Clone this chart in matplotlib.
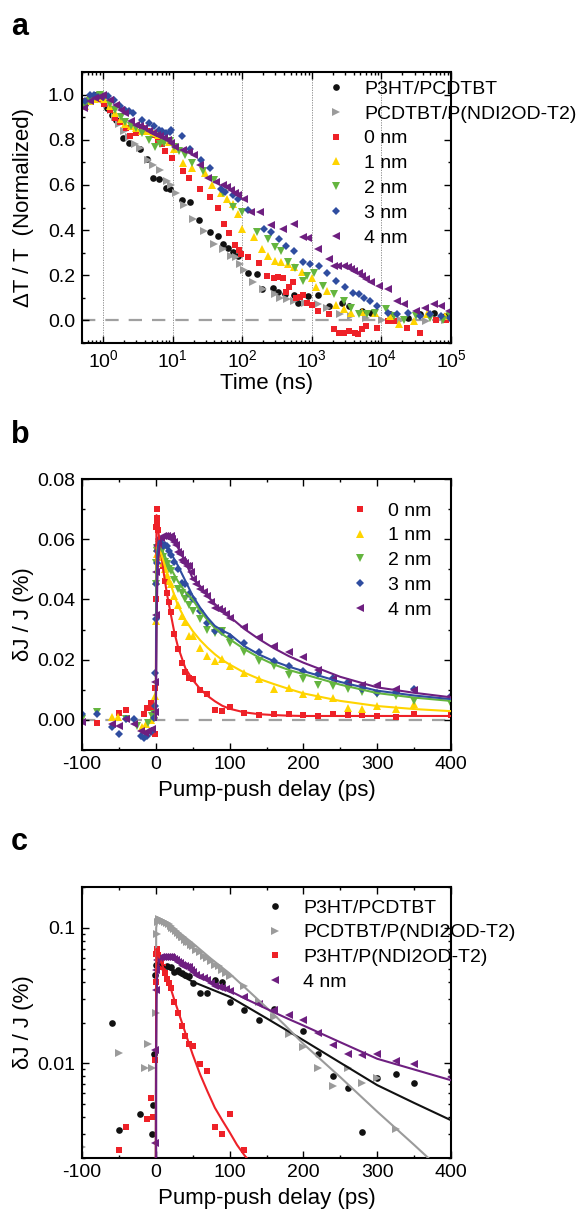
import matplotlib
matplotlib.use("Agg")
import matplotlib.pyplot as plt
from matplotlib.ticker import MultipleLocator, FixedLocator, LogLocator, NullFormatter

plt.rcParams["font.family"] = ["Liberation Sans", "DejaVu Sans"]
plt.rcParams["axes.unicode_minus"] = False

# ---------------- panel a: normalized dT/T vs time (ns) ----------------
a_black_t = [0.55, 0.62, 0.7, 0.78, 0.88, 1.0, 1.15, 1.35, 1.53, 1.96, 2.36, 3.4, 4.3, 5.2, 6.3, 8.0,
             9.1, 13.6, 17.8, 24.1, 34.9, 44.6, 53.5, 62, 72.8, 87.4, 123, 165, 194, 275, 332, 413,
             548, 643, 897, 1217, 1758, 2700, 3440, 5250, 7180, 13200, 24500, 35300, 57600, 83000]
a_black_v = [0.96, 0.98, 0.99, 1.0, 0.99, 0.97, 0.94, 0.91, 0.888, 0.809, 0.786, 0.757, 0.713, 0.629, 0.626,
             0.588, 0.58, 0.533, 0.524, 0.444, 0.393, 0.374, 0.34, 0.319, 0.302, 0.287, 0.21, 0.206, 0.141,
             0.143, 0.126, 0.118, 0.111, 0.079, 0.108, 0.111, 0.064, 0.076, 0.064, 0.042, 0.034, 0.027,
             0.012, 0.027, 0.034, 0.019]

a_gray_t = [0.55, 0.65, 0.75, 0.85, 1.0, 1.15, 1.3, 1.5, 1.7, 2.0, 2.4, 2.9, 3.4, 4.5, 5.2, 6.7, 8.3,
            9.5, 11.1, 14.8, 19.6, 28.4, 39.5, 53.5, 68.6, 82, 93, 105, 145, 198, 292, 352, 438, 548,
            795, 1217, 1660, 2540, 3680, 5950, 10300, 19000, 44000, 83000]
a_gray_v = [0.96, 0.97, 0.98, 0.99, 0.98, 0.96, 0.93, 0.9, 0.87, 0.84, 0.81, 0.78, 0.765, 0.71, 0.688,
            0.666, 0.617, 0.6, 0.562, 0.51, 0.45, 0.398, 0.339, 0.317, 0.287, 0.279, 0.25, 0.225, 0.17,
            0.138, 0.118, 0.099, 0.096, 0.086, 0.079, 0.071, 0.056, 0.027, 0.019, 0.012, 0.004, 0.004,
            -0.003, 0.004]

a_red_t = [0.55, 0.65, 0.78, 0.9, 1.05, 1.25, 1.5, 1.73, 2.16, 2.47, 3.0, 3.6, 4.3, 5.2, 6.2, 7.0, 7.85,
           9.8, 14.1, 17.5, 24.4, 34, 44.3, 55.2, 65, 77.6, 88.6, 96.8, 123, 172, 226, 282, 331, 380,
           420, 470, 540, 600, 680, 740, 846, 1000, 1247, 1740, 2110, 2440, 2870, 3440, 4140, 4680,
           5250, 5980, 8630, 12500, 15000, 23000, 35300, 61300, 85000]
a_red_v = [0.97, 0.98, 0.99, 0.98, 0.96, 0.93, 0.898, 0.88, 0.851, 0.818, 0.83, 0.85, 0.84, 0.82, 0.8,
           0.78, 0.75, 0.72, 0.661, 0.629, 0.584, 0.547, 0.496, 0.428, 0.386, 0.333, 0.311, 0.296,
           0.281, 0.256, 0.197, 0.19, 0.192, 0.19, 0.125, 0.146, 0.17, 0.1, 0.104, 0.111, 0.078, 0.07,
           0.04, 0.03, -0.04, -0.055, -0.055, -0.045, -0.055, -0.062, -0.04, -0.025, -0.033, -0.003,
           -0.003, -0.033, -0.055, 0.004, 0.0]

a_yellow_t = [0.55, 0.65, 0.78, 0.9, 1.05, 1.25, 1.5, 1.8, 2.1, 2.5, 3.0, 3.6, 4.3, 5.2, 6.2, 7.4, 8.8,
              10.5, 13.9, 18.9, 29, 37, 50.4, 60.5, 72.8, 87.4, 98.8, 146, 190, 233, 297, 357, 457,
              548, 718, 1011, 1145, 1650, 2240, 2870, 3640, 5250, 8130, 13200, 18000, 29400, 45000,
              83000]
a_yellow_v = [0.95, 0.97, 0.98, 0.99, 0.98, 0.95, 0.92, 0.89, 0.87, 0.86, 0.85, 0.84, 0.84, 0.83, 0.82,
              0.8, 0.79, 0.76, 0.695, 0.673, 0.651, 0.599, 0.562, 0.539, 0.517, 0.473, 0.406, 0.37,
              0.318, 0.287, 0.265, 0.257, 0.25, 0.238, 0.215, 0.19, 0.146, 0.131, 0.067, 0.049, 0.034,
              0.037, 0.034, 0.019, -0.018, -0.003, 0.027, 0.019]

a_green_t = [0.55, 0.65, 0.78, 0.9, 1.05, 1.25, 1.5, 1.8, 2.1, 2.5, 3.0, 3.6, 4.6, 5.6, 6.5, 7.5, 9.2,
             10.5, 12.5, 15.3, 18.9, 27, 39.5, 53.5, 72.8, 98.8, 161, 233, 297, 357, 457, 583, 747,
             840, 1080, 1450, 2100, 2870, 3640, 4690, 6300, 8130, 11700, 15000, 21400, 31000, 50000,
             77000, 98000]
a_green_v = [0.95, 0.97, 0.99, 1.0, 0.99, 0.96, 0.93, 0.9, 0.88, 0.86, 0.85, 0.83, 0.8, 0.767, 0.78,
             0.785, 0.796, 0.77, 0.75, 0.733, 0.698, 0.66, 0.621, 0.562, 0.502, 0.48, 0.391, 0.361,
             0.324, 0.309, 0.257, 0.23, 0.175, 0.198, 0.212, 0.153, 0.116, 0.086, 0.056, 0.027, 0.027,
             0.034, 0.049, 0.019, 0.004, 0.019, 0.012, 0.004, 0.019]

a_blue_t = [0.55, 0.65, 0.75, 0.85, 1.0, 1.2, 1.44, 1.74, 2.08, 2.36, 2.66, 3.6, 4.6, 5.5, 6.3, 7.1,
            8.0, 9.1, 9.6, 13.5, 17.8, 25.7, 34.9, 50.4, 57, 72.8, 87.4, 123, 205, 263, 335, 426, 548,
            747, 950, 1290, 1650, 2240, 3020, 3880, 4690, 5640, 6800, 8700, 12600, 17000, 24500,
            35300, 50000, 73000, 98000]
a_blue_v = [0.97, 1.0, 1.0, 0.99, 0.99, 0.993, 0.978, 0.948, 0.933, 0.926, 0.918, 0.889, 0.874, 0.859,
            0.844, 0.837, 0.829, 0.834, 0.844, 0.818, 0.757, 0.71, 0.673, 0.584, 0.569, 0.554, 0.539,
            0.487, 0.406, 0.391, 0.361, 0.331, 0.309, 0.257, 0.25, 0.242, 0.212, 0.175, 0.146, 0.123,
            0.116, 0.101, 0.086, 0.064, 0.034, 0.027, 0.034, 0.019, 0.027, 0.019, 0.012]

a_purple_t = [0.54, 0.65, 0.78, 0.9, 1.0, 1.28, 1.53, 1.8, 2.08, 2.5, 3.0, 3.4, 3.85, 4.6, 5.2, 5.9, 6.7,
              7.5, 8.5, 9.6, 11, 13.9, 17, 20.1, 25, 32.7, 41.8, 53.5, 60, 68.6, 78, 87.4, 105, 134,
              183, 263, 380, 548, 747, 897, 1217, 1758, 2100, 2380, 2870, 3300, 3640, 4100, 4690,
              5300, 6000, 7180, 9130, 12600, 17000, 21400, 31000, 43000, 57600, 73000, 94000]
a_purple_v = [0.94, 0.97, 0.985, 0.99, 1.0, 0.978, 0.955, 0.93, 0.918, 0.881, 0.866, 0.86, 0.851, 0.84,
              0.83, 0.822, 0.815, 0.807, 0.8, 0.785, 0.77, 0.755, 0.745, 0.733, 0.69, 0.629, 0.614,
              0.599, 0.59, 0.577, 0.565, 0.554, 0.539, 0.48, 0.48, 0.421, 0.406, 0.428, 0.369, 0.364,
              0.317, 0.272, 0.24, 0.242, 0.242, 0.235, 0.227, 0.22, 0.212, 0.195, 0.183, 0.168, 0.153,
              0.138, 0.086, 0.071, 0.042, 0.056, 0.071, 0.064, 0.042]

a_decades = [1, 10, 100, 1000, 10000]

# ---------------- panel b: dJ/J vs pump-push delay (ps) ----------------
b_red_t = [-80, -50, -40, -16.5, -11.5, -6.5, -4, -1, -0.5, 0, 0.5, 1, 1.5, 2, 3, 5, 7.5, 10, 12.5, 15,
           17.5, 20, 25, 30, 35, 40, 45, 50, 60, 70, 80, 90, 100, 120, 140, 160, 180, 200, 220, 240,
           260, 280, 300, 325, 350, 400]
b_red_v = [-0.0009, 0.0023, 0.0034, 0.0019, 0.0039, 0.0055, 0.004, -0.0048, 0.0105, 0.04, 0.064, 0.07,
           0.067, 0.065, 0.063, 0.059, 0.055, 0.051, 0.046, 0.042, 0.039, 0.0357, 0.0285, 0.0237,
           0.019, 0.016, 0.0138, 0.0135, 0.0099, 0.0087, 0.0034, 0.003, 0.0042, 0.0023, 0.0016,
           0.0019, 0.0019, 0.0017, 0.0013, 0.0019, 0.0017, 0.0017, 0.0013, 0.001, 0.0019, 0.0016]

b_yellow_t = [-60, -51, -19, -13, -7, -2, -1, 0, 0.5, 1, 2, 4, 6, 8, 10, 12.5, 15, 17.5, 20, 25, 30, 35,
              40, 45, 50, 60, 70, 80, 90, 100, 120, 140, 160, 180, 200, 220, 240, 260, 280, 300,
              325, 350]
b_yellow_v = [0.001, 0.0011, -0.0022, -0.0014, -0.0001, 0.002, 0.008, 0.033, 0.046, 0.055, 0.057, 0.058,
              0.056, 0.054, 0.052, 0.05, 0.048, 0.046, 0.045, 0.041, 0.038, 0.0346, 0.0326, 0.0279,
              0.028, 0.024, 0.0213, 0.0196, 0.0202, 0.018, 0.0155, 0.0135, 0.0104, 0.0105, 0.0085,
              0.008, 0.0074, 0.0041, 0.0035, 0.0047, 0.0035, 0.0052]

b_green_t = [-100, -80, -40, -25, -10, -5, -2, 0, 0.5, 1, 2, 4, 6, 8, 10, 12.5, 15, 17.5, 20, 25, 30,
             35, 40, 45, 50, 60, 70, 80, 90, 100, 120, 140, 160, 180, 200, 220, 240, 260, 280, 300,
             325, 350, 400]
b_green_v = [0.0003, 0.0027, 0.0002, -0.002, -0.001, 0.0012, 0.002, 0.045, 0.052, 0.056, 0.057, 0.058,
             0.057, 0.056, 0.054, 0.0525, 0.0517, 0.05, 0.0495, 0.0465, 0.0434, 0.042, 0.04, 0.038,
             0.0362, 0.0335, 0.03, 0.029, 0.0296, 0.0254, 0.0224, 0.0196, 0.018, 0.0148, 0.0135,
             0.0116, 0.0111, 0.0104, 0.0093, 0.0085, 0.008, 0.0063, 0.0052]

b_blue_t = [-100, -80, -60, -50, -40, -30, -20, -16.5, -11.5, -6.5, -3, -1, -0.5, 0, 0.5, 1, 2, 3.5, 5,
            7.5, 10, 12.5, 15, 17.5, 20, 25, 30, 35, 40, 45, 50, 60, 70, 80, 90, 100, 120, 140, 160,
            180, 200, 220, 240, 260, 280, 300, 325, 350, 400]
b_blue_v = [0.0019, 0.0019, -0.0025, -0.0048, 0.0002, 0.0002, -0.0055, -0.0059, -0.0053, -0.004,
            0.0005, 0.0047, 0.0157, 0.0335, 0.045, 0.052, 0.056, 0.058, 0.06, 0.0585, 0.0578, 0.058,
            0.0578, 0.056, 0.0547, 0.0523, 0.05, 0.0456, 0.045, 0.0418, 0.04, 0.0362, 0.0321, 0.0296,
            0.0293, 0.0274, 0.0255, 0.0224, 0.0196, 0.018, 0.0163, 0.0152, 0.014, 0.0126, 0.0102,
            0.0089, 0.0091, 0.0102, 0.008]

b_purple_t = [-100, -60, -50, -40, -30, -20, -15, -10, -5, -1, -0.5, 0, 0.5, 1, 2.5, 5, 7.5, 10, 12.5,
              15, 17.5, 20, 22.5, 25, 27.5, 30, 32.5, 35, 37.5, 40, 42.5, 45, 47.5, 50, 55, 60, 65,
              70, 75, 80, 85, 90, 95, 100, 120, 140, 160, 180, 200, 220, 240, 260, 280, 300, 325,
              350, 400]
b_purple_v = [-0.0007, -0.0014, -0.002, 0.0002, -0.0014, -0.0037, -0.0042, -0.0037, -0.003, 0.0026,
              0.0125, 0.0347, 0.049, 0.0576, 0.058, 0.0596, 0.0605, 0.0612, 0.061, 0.061, 0.0605,
              0.0612, 0.06, 0.059, 0.058, 0.0556, 0.055, 0.053, 0.0525, 0.052, 0.051, 0.0512, 0.049,
              0.0468, 0.0452, 0.0434, 0.0425, 0.041, 0.039, 0.0373, 0.0368, 0.0362, 0.0352, 0.034,
              0.0307, 0.0274, 0.0246, 0.0227, 0.021, 0.0167, 0.0136, 0.0118, 0.0115, 0.0117, 0.0104,
              0.0099, 0.0079]

# fitted curves
b_fit_t = [0, 0.5, 1, 2, 3, 5, 7.5, 10, 15, 20, 25, 30, 40, 50, 60, 70, 80, 90, 100, 120, 140, 160,
           180, 200, 250, 300, 350, 400]
b_fit_red = [0, 0.045, 0.068, 0.067, 0.064, 0.059, 0.055, 0.05, 0.042, 0.0355, 0.0292, 0.0243, 0.0172,
             0.0133, 0.0103, 0.008, 0.0062, 0.0047, 0.0037, 0.0025, 0.0019, 0.0016, 0.0014, 0.0013,
             0.0013, 0.0013, 0.0013, 0.0013]
b_fit_yellow = [0, 0.035, 0.052, 0.057, 0.058, 0.057, 0.055, 0.053, 0.049, 0.0452, 0.0414, 0.038,
                0.0332, 0.0295, 0.0265, 0.024, 0.0218, 0.0199, 0.0184, 0.0157, 0.0136, 0.0119, 0.0103,
                0.0088, 0.0063, 0.0046, 0.0036, 0.0029]
b_fit_green = [0, 0.03, 0.05, 0.056, 0.057, 0.0575, 0.0565, 0.0555, 0.053, 0.0505, 0.0482, 0.046,
               0.0425, 0.04, 0.0362, 0.0332, 0.0305, 0.0285, 0.0268, 0.0235, 0.0207, 0.0184, 0.0166,
               0.0152, 0.0117, 0.0089, 0.0074, 0.0063]
b_fit_blue = [0, 0.025, 0.045, 0.055, 0.058, 0.0595, 0.0595, 0.059, 0.057, 0.0555, 0.0534, 0.0512,
              0.0462, 0.0412, 0.0373, 0.034, 0.0312, 0.0297, 0.0285, 0.0245, 0.0217, 0.0195, 0.0177,
              0.0162, 0.0126, 0.0097, 0.0081, 0.0069]
b_fit_purple = [0, 0.012, 0.03, 0.045, 0.052, 0.0575, 0.06, 0.0608, 0.061, 0.0605, 0.0592, 0.0572,
                0.0525, 0.047, 0.0445, 0.0412, 0.0385, 0.0362, 0.0343, 0.0302, 0.0268, 0.0238, 0.0212,
                0.019, 0.0143, 0.0108, 0.009, 0.0075]

# ---------------- panel c: log scale, different blends ----------------
c_black_t = [-60, -50, -21, -5.4, -3.2, -2, -1, 0, 1, 5, 10, 15, 20, 25, 30, 35, 40, 45, 50, 60, 70, 80,
             90, 100, 120, 140, 160, 200, 220, 240, 260, 280, 300, 325, 350, 400]
c_black_v = [0.0198, 0.0032, 0.0042, 0.003, 0.0049, 0.0117, 0.0448, 0.053, 0.0528, 0.055, 0.0514,
             0.052, 0.0514, 0.0472, 0.0485, 0.046, 0.0446, 0.0439, 0.0392, 0.033, 0.033, 0.041,
             0.0398, 0.0283, 0.0248, 0.021, 0.025, 0.0173, 0.0117, 0.0081, 0.0066, 0.0031, 0.0078,
             0.0084, 0.0071, 0.0088]

c_gray_t = [-100, -50, -15, -10, -5, 0, 1, 2.5, 5, 7.5, 10, 12.5, 15, 17.5, 20, 22.5, 25, 27.5, 30,
            32.5, 35, 37.5, 40, 42.5, 45, 47.5, 50, 55, 60, 65, 70, 75, 80, 85, 90, 95, 100, 120, 140,
            160, 180, 200, 220, 240, 260, 280, 300, 325]
c_gray_v = [0.0024, 0.012, 0.0093, 0.0138, 0.0093, 0.0236, 0.0893, 0.11, 0.116, 0.115, 0.113, 0.11,
            0.108, 0.106, 0.103, 0.1, 0.098, 0.094, 0.092, 0.088, 0.086, 0.085, 0.081, 0.079, 0.078,
            0.075, 0.073, 0.069, 0.066, 0.062, 0.06, 0.057, 0.053, 0.052, 0.049, 0.046, 0.044, 0.037,
            0.0283, 0.0219, 0.0165, 0.0133, 0.0093, 0.0068, 0.0092, 0.0072, 0.0078, 0.0033]

c_fit_black_t = [0, 0.5, 2, 5, 10, 20, 50, 100, 150, 200, 250, 300, 350, 400]
c_fit_black_v = [0.001, 0.054, 0.0545, 0.054, 0.052, 0.049, 0.04, 0.031, 0.0215, 0.0148, 0.0101,
                 0.0069, 0.0051, 0.0038]
c_fit_gray_t = [0, 0.5, 2, 5, 10, 20, 30, 40, 50, 75, 100, 125, 150, 175, 200, 250, 300, 350, 400]
c_fit_gray_v = [0.001, 0.1, 0.112, 0.115, 0.112, 0.104, 0.094, 0.085, 0.077, 0.059, 0.046, 0.0345,
                0.0258, 0.0191, 0.0139, 0.0079, 0.0044, 0.0025, 0.0014]
c_fit_red_t = [0, 0.5, 1, 2, 5, 10, 15, 20, 25, 30, 40, 50, 60, 70, 80, 90, 100, 110, 120, 130]
c_fit_red_v = [0.001, 0.04, 0.07, 0.067, 0.06, 0.051, 0.043, 0.036, 0.0295, 0.0245, 0.0168, 0.0116,
               0.0083, 0.0062, 0.0047, 0.0038, 0.0031, 0.0025, 0.0021, 0.0018]

# ---------------- styles ----------------
BLACK = "#111111"
GRAY = "#9b9b9b"
RED = "#ee2128"
YELLOW = "#ffd400"
GREEN = "#64b53f"
BLUE = "#2f4da0"
PURPLE = "#6e1f80"

STY = {
    "black": dict(marker="o", ms=4.8, color=BLACK),
    "gray": dict(marker=">", ms=5.6, color=GRAY),
    "red": dict(marker="s", ms=4.1, color=RED),
    "yellow": dict(marker="^", ms=5.6, color=YELLOW),
    "green": dict(marker="v", ms=5.6, color=GREEN),
    "blue": dict(marker="D", ms=4.1, color=BLUE),
    "purple": dict(marker="<", ms=5.6, color=PURPLE),
}

FS_TICK = 14
FS_LAB = 16
FS_LEG = 14


def scatter(ax, t, v, key, label=None):
    ax.plot(t, v, ls="none", mew=0, label=label, **STY[key])


def style_axes(ax):
    for sp in ax.spines.values():
        sp.set_linewidth(1.5)
    ax.tick_params(which="both", direction="in", top=True, right=True,
                   labelsize=FS_TICK, width=1.0)
    ax.tick_params(which="major", length=5)
    ax.tick_params(which="minor", length=2.5)
    ax.tick_params(axis="y", pad=5)
    ax.tick_params(axis="x", pad=4.5)
    ax.yaxis.set_label_coords(-0.13, 0.5)
    ax.xaxis.set_label_coords(0.5, -0.112)


def legend(ax, x, y):
    ax.legend(loc="upper left", bbox_to_anchor=(x, y), frameon=False, fontsize=FS_LEG,
              handlelength=1.0, handletextpad=0.95, labelspacing=0.37, borderpad=0,
              borderaxespad=0, numpoints=1)


fig = plt.figure(figsize=(5.82, 12.14), dpi=100)
L, W, H = 82 / 582, 369 / 582, 271 / 1214

# ---- a ----
ax = fig.add_axes([L, (1214 - 343) / 1214, W, H])
for d in a_decades:
    ax.axvline(d, color="#808080", lw=0.6, ls=(0, (1.5, 1.5)), zorder=0.5)
ax.axhline(0, color="#a0a0a0", lw=1.6, ls=(0, (6, 4.5)), zorder=1)
scatter(ax, a_black_t, a_black_v, "black", "P3HT/PCDTBT")
scatter(ax, a_gray_t, a_gray_v, "gray", "PCDTBT/P(NDI2OD-T2)")
scatter(ax, a_red_t, a_red_v, "red", "0 nm")
scatter(ax, a_yellow_t, a_yellow_v, "yellow", "1 nm")
scatter(ax, a_green_t, a_green_v, "green", "2 nm")
scatter(ax, a_blue_t, a_blue_v, "blue", "3 nm")
scatter(ax, a_purple_t, a_purple_v, "purple", "4 nm")
ax.set_xscale("log")
ax.set_xlim(0.5, 1e5)
ax.set_ylim(-0.1, 1.1)
ax.yaxis.set_major_locator(MultipleLocator(0.2))
ax.yaxis.set_minor_locator(MultipleLocator(0.1))
ax.yaxis.set_major_formatter(matplotlib.ticker.FormatStrFormatter("%.1f"))
ax.set_xlabel("Time (ns)", fontsize=FS_LAB)
ax.set_ylabel("\u0394T / T  (Normalized)", fontsize=FS_LAB)
style_axes(ax)
legend(ax, 0.662, 0.97)

# ---- b ----
ax = fig.add_axes([L, (1214 - 750) / 1214, W, H])
ax.axhline(0, color="#a0a0a0", lw=1.6, ls=(0, (6, 4.5)), zorder=1)
scatter(ax, b_red_t, b_red_v, "red", "0 nm")
scatter(ax, b_yellow_t, b_yellow_v, "yellow", "1 nm")
scatter(ax, b_green_t, b_green_v, "green", "2 nm")
scatter(ax, b_blue_t, b_blue_v, "blue", "3 nm")
scatter(ax, b_purple_t, b_purple_v, "purple", "4 nm")
ax.plot(b_fit_t, b_fit_red, color=RED, lw=1.5, zorder=3)
ax.plot(b_fit_t, b_fit_yellow, color=YELLOW, lw=1.5, zorder=3)
ax.plot(b_fit_t, b_fit_green, color=GREEN, lw=1.5, zorder=3)
ax.plot(b_fit_t, b_fit_blue, color=BLUE, lw=1.5, zorder=3)
ax.plot(b_fit_t, b_fit_purple, color=PURPLE, lw=1.5, zorder=3)
ax.set_xlim(-100, 400)
ax.set_ylim(-0.01, 0.08)
ax.xaxis.set_major_locator(MultipleLocator(100))
ax.xaxis.set_minor_locator(MultipleLocator(50))
ax.yaxis.set_major_locator(MultipleLocator(0.02))
ax.yaxis.set_minor_locator(MultipleLocator(0.01))
ax.yaxis.set_major_formatter(matplotlib.ticker.FormatStrFormatter("%.2f"))
ax.set_xlabel("Pump-push delay (ps)", fontsize=FS_LAB)
ax.set_ylabel("\u03b4J / J (%)", fontsize=FS_LAB)
style_axes(ax)
legend(ax, 0.727, 0.915)

# ---- c ----
ax = fig.add_axes([L, (1214 - 1158) / 1214, W, H])
ax.set_yscale("log")
scatter(ax, c_black_t, c_black_v, "black", "P3HT/PCDTBT")
scatter(ax, c_gray_t, c_gray_v, "gray", "PCDTBT/P(NDI2OD-T2)")
scatter(ax, b_red_t, b_red_v, "red", "P3HT/P(NDI2OD-T2)")
scatter(ax, b_purple_t, b_purple_v, "purple", "4 nm")
ax.plot(c_fit_black_t, c_fit_black_v, color=BLACK, lw=1.5, zorder=3)
ax.plot(c_fit_gray_t, c_fit_gray_v, color=GRAY, lw=1.5, zorder=3)
ax.plot(c_fit_red_t, c_fit_red_v, color=RED, lw=1.5, zorder=3)
ax.plot(b_fit_t, b_fit_purple, color=PURPLE, lw=1.5, zorder=3)
ax.set_xlim(-100, 400)
ax.set_ylim(0.002, 0.2)
ax.xaxis.set_major_locator(MultipleLocator(100))
ax.xaxis.set_minor_locator(MultipleLocator(50))
ax.yaxis.set_major_locator(FixedLocator([0.01, 0.1]))
ax.yaxis.set_minor_locator(LogLocator(base=10, subs=range(2, 10)))
ax.yaxis.set_minor_formatter(NullFormatter())
ax.set_yticklabels(["0.01", "0.1"])
ax.set_xlabel("Pump-push delay (ps)", fontsize=FS_LAB)
ax.set_ylabel("\u03b4J / J (%)", fontsize=FS_LAB)
style_axes(ax)
legend(ax, 0.497, 0.956)

# panel letters
for letter, ybase in [("a", 35), ("b", 443), ("c", 850)]:
    fig.text(11 / 582, 1 - ybase / 1214, letter, fontsize=22, fontweight="bold",
             ha="left", va="baseline")

fig.savefig("out.png", dpi=100)
